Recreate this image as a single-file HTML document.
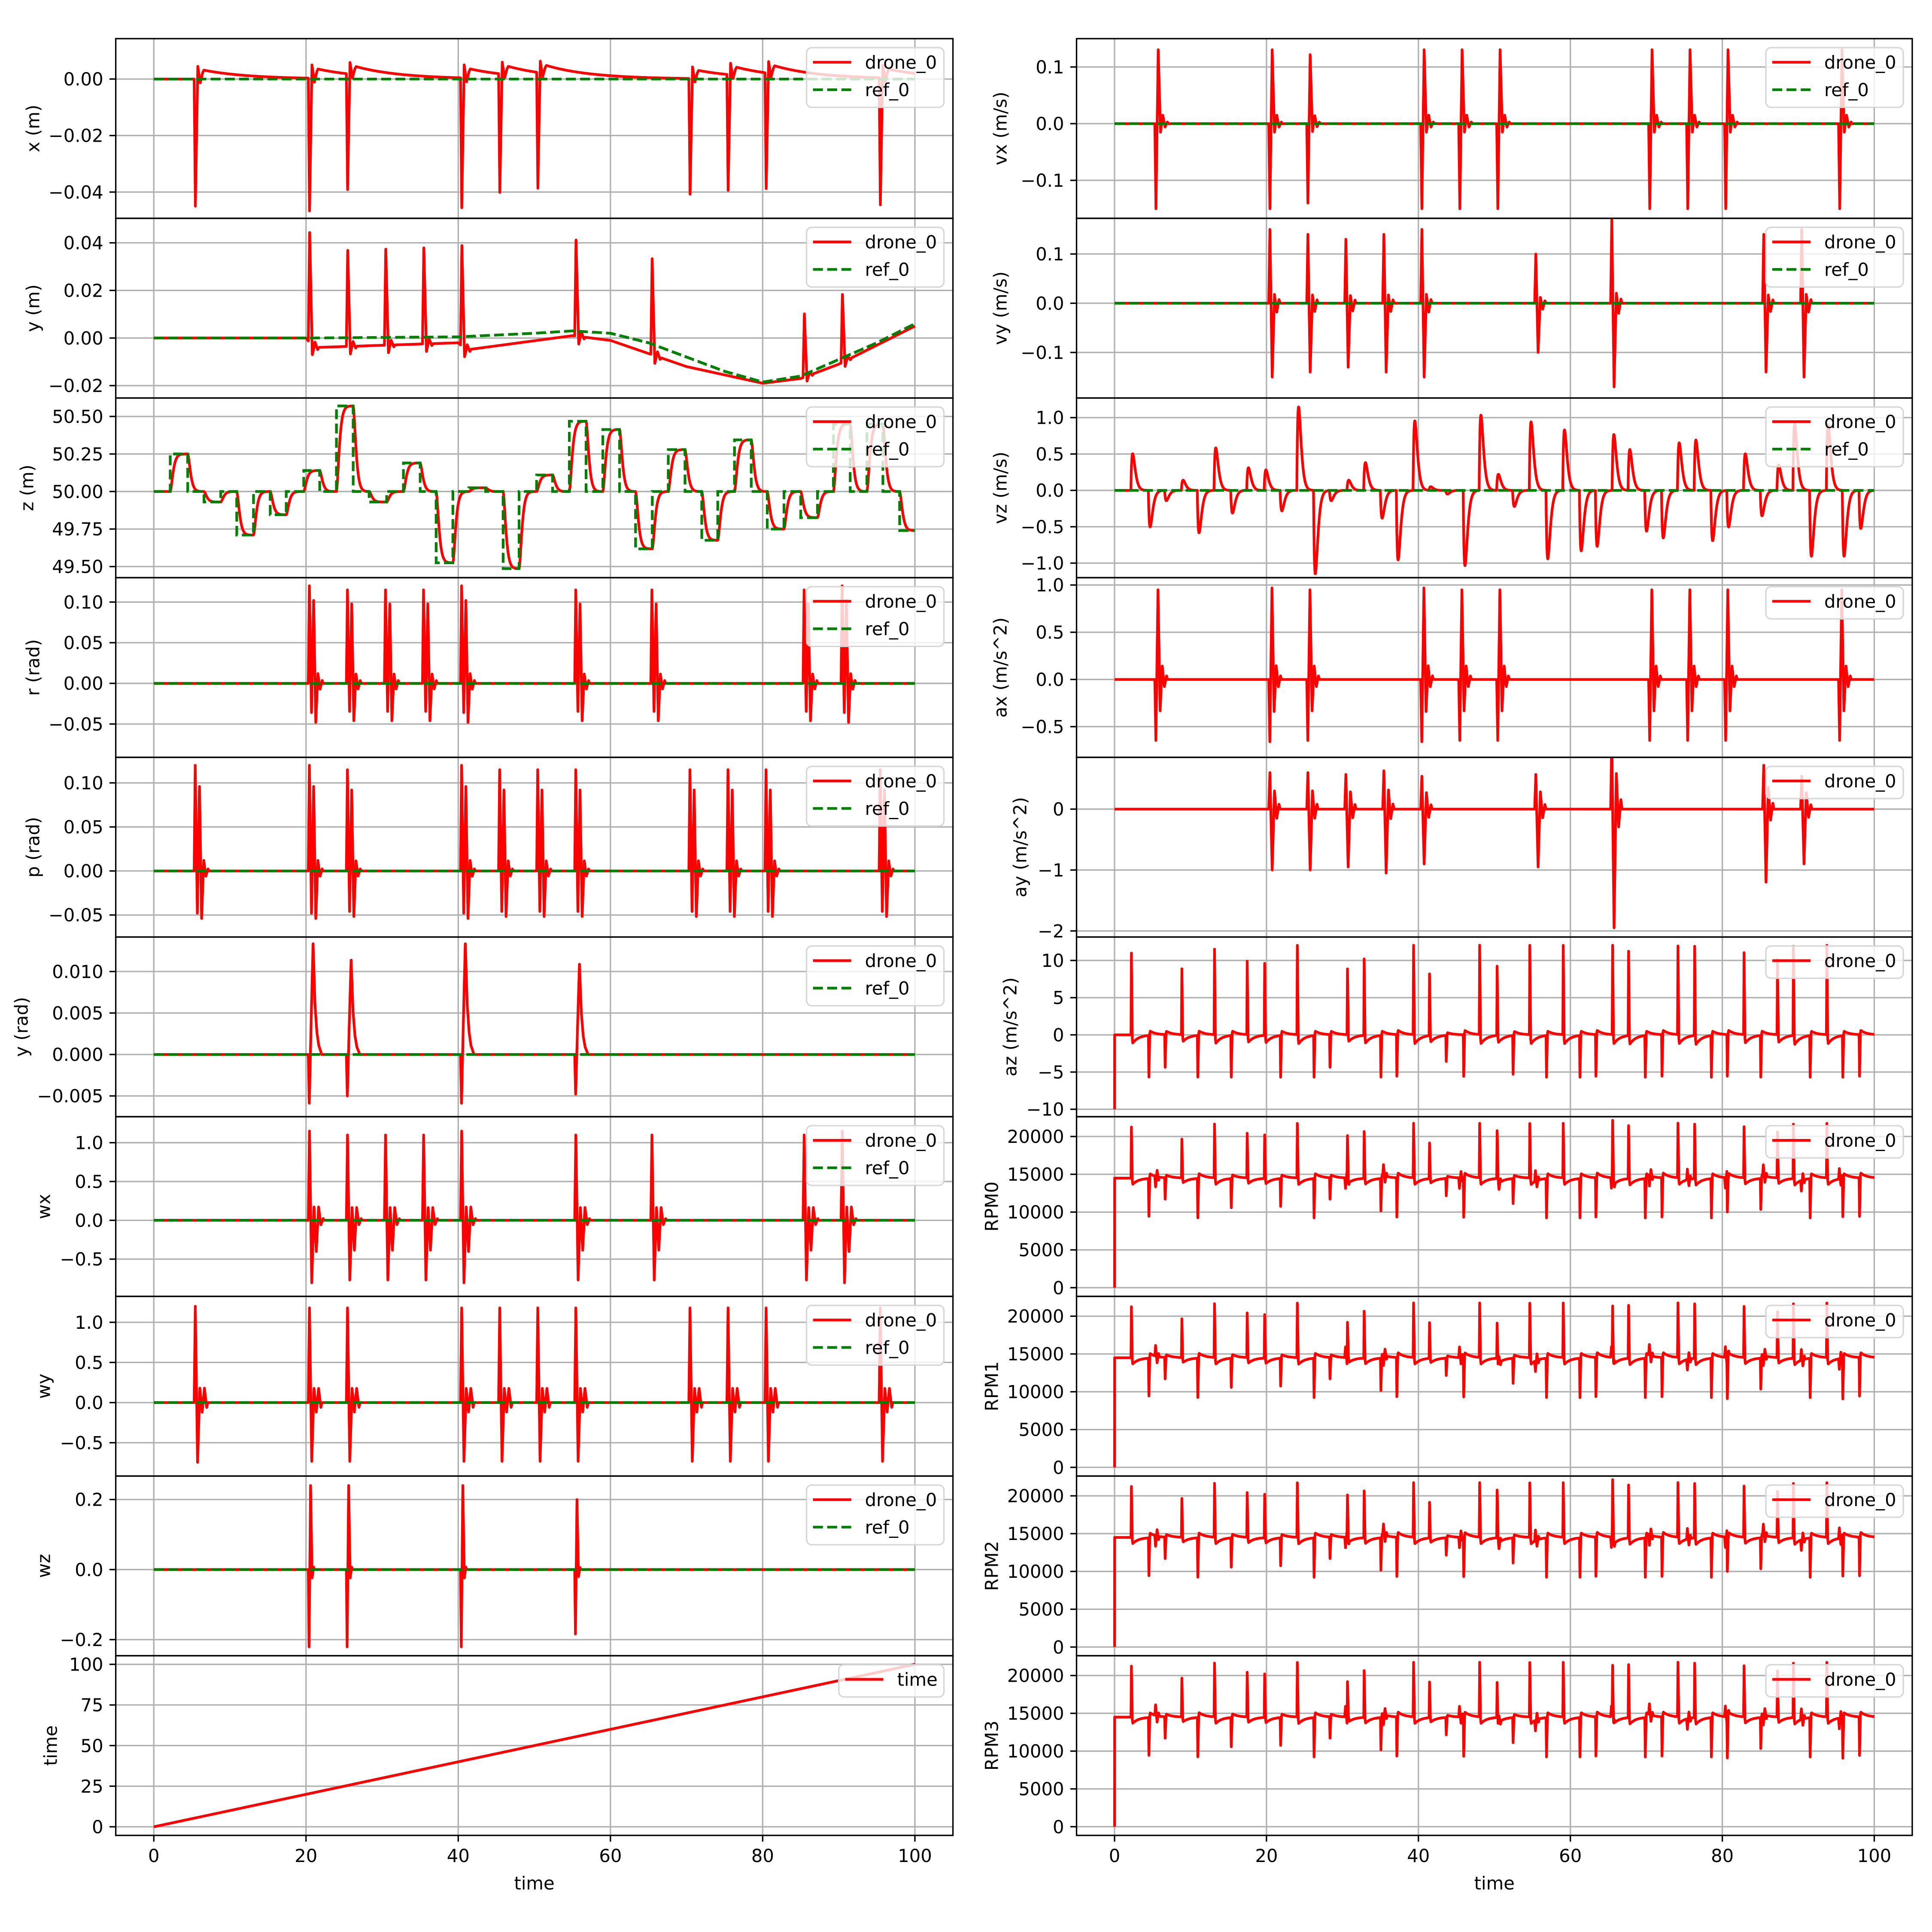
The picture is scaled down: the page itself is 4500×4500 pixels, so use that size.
<!DOCTYPE html>
<html><head><meta charset="utf-8">
<style>
html,body{margin:0;padding:0;background:#fff;}
svg{display:block;}
text{font-family:"DejaVu Sans","Liberation Sans",sans-serif;}
</style></head>
<body>
<svg id="fig" xmlns="http://www.w3.org/2000/svg" width="4500" height="4500" viewBox="0 0 4500 4500">
<rect x="0" y="0" width="4500" height="4500" fill="#fff"/>
</svg>
<script>
// ---------------- data ----------------
const xTicks = [0, 20, 40, 60, 80, 100];

// position x events
const xEvtT = [5.3, 20.3, 25.3, 40.3, 45.3, 50.3, 70.3, 75.3, 80.3, 95.3];
const xEvtA = [-0.045, -0.047, -0.041, -0.046, -0.042, -0.041, -0.041, -0.041, -0.041, -0.045];
// lateral (y/roll) events
const yEvtT = [20.3, 25.3, 30.3, 35.3, 40.3, 55.3, 65.3, 85.3, 90.3];
const yEvtA = [0.047, 0.041, 0.041, 0.041, 0.043, 0.041, 0.041, 0.027, 0.029];
const yRefT = [0, 20, 40, 50, 55, 60, 65, 70, 75, 80, 85, 90, 95, 100];
const yRefV = [0, 0, 0.0005, 0.002, 0.003, 0.002, -0.002, -0.008, -0.014, -0.0185, -0.016, -0.009, -0.002, 0.006];
const yBaseT = [0, 20, 21, 40, 41, 55, 60, 70, 80, 85, 90, 100];
const yBaseV = [0, 0, -0.004, -0.002, -0.005, 0.001, -0.001, -0.012, -0.019, -0.017, -0.011, 0.005];
// altitude reference steps
const zStepT = [0,2.16,4.46,6.6,8.8,10.9,13.1,15.3,17.4,19.7,21.8,24.0,26.2,28.3,30.6,32.8,35.0,37.1,39.3,41.4,43.6,45.9,48.0,50.3,52.4,54.6,56.8,59.0,61.2,63.3,65.5,67.6,69.8,72.0,74.1,76.3,78.5,80.6,82.8,85.0,87.2,89.3,91.5,93.7,95.8,98.0];
const zStepV = [50,50.25,50,49.93,50,49.71,50,49.845,50,50.14,50,50.57,50,49.93,50,50.19,50,49.525,50,50.025,50,49.486,50,50.11,50,50.468,50,50.413,50,49.618,50,50.279,50,49.675,50,50.344,50,49.75,50,49.826,50,50.45,50,50.45,50,49.74];
// roll
const rEvtA = [0.12, 0.115, 0.115, 0.115, 0.12, 0.115, 0.115, 0.115, 0.12];
// pitch events
const pEvtT = [5.3, 20.3, 25.3, 40.3, 45.3, 50.3, 55.3, 70.3, 75.3, 80.3, 95.3];
const pEvtA = [0.12, 0.12, 0.115, 0.12, 0.115, 0.115, 0.115, 0.115, 0.115, 0.115, 0.115];
// yaw events
const yawEvtT = [20.3, 25.3, 40.3, 55.3];
const yawEvtA = [0.0135, 0.0115, 0.0135, 0.011];
const wxEvtA = [1.15, 1.1, 1.1, 1.1, 1.15, 1.1, 1.1, 1.1, 1.15];
const wyEvtA = [1.2, 1.18, 1.18, 1.18, 1.18, 1.18, 1.18, 1.18, 1.18, 1.18, 1.18];
const wzEvtA = [0.24, 0.24, 0.24, 0.2];
const vxEvtA = [0.15, 0.15, 0.14, 0.15, 0.15, 0.15, 0.15, 0.15, 0.15, 0.15];
const vyEvtA = [0.15, 0.14, 0.13, 0.14, 0.15, 0.1, 0.17, 0.14, 0.15];
const axEvtA = [0.95, 0.97, 0.95, 0.97, 0.95, 0.95, 0.95, 0.95, 0.95, 0.95];
const ayEvtA = [1.0, 1.0, 0.95, 1.05, 0.9, 0.95, 1.95, 1.2, 0.9];
const rpmBase = [14500, 14500, 14500, 14500];

// ---------------- layout ----------------
const SVGNS = "http://www.w3.org/2000/svg";
const fig = document.getElementById('fig');
const TOP = 90, ROWH = 418.5;
const COLS = [{l: 269.6, w: 1950}, {l: 2507.5, w: 1946.5}];
const FS = 41.7, LW = 6.25, GW = 3.3;
const DT = 0.01, N = 10001;
const T = []; for (let i = 0; i < N; i++) T.push(i * DT);

function mk(tag, attrs, parent) {
  const e = document.createElementNS(SVGNS, tag);
  for (const k in attrs) e.setAttribute(k, attrs[k]);
  (parent || fig).appendChild(e);
  return e;
}
function interp(ts, vs, t) {
  if (t <= ts[0]) return vs[0];
  for (let i = 1; i < ts.length; i++) if (t <= ts[i]) {
    const f = (t - ts[i-1]) / (ts[i] - ts[i-1]); return vs[i-1] + f * (vs[i] - vs[i-1]);
  }
  return vs[vs.length - 1];
}
function eventSeries(times, amps, shape, d, tail, tau) {
  const out = new Float64Array(N);
  times.forEach((t0, k) => {
    const A = amps[k];
    const kt = [t0], kv = [0];
    shape.forEach((s, i) => { kt.push(t0 + d * (i + 0.5)); kv.push(A * s); });
    const tend = t0 + d * shape.length;
    kt.push(tend); kv.push(tail ? A * tail : 0);
    const i0 = Math.max(0, Math.floor(t0 / DT));
    for (let i = i0; i < N; i++) {
      const t = T[i];
      if (t <= tend) out[i] += interp(kt, kv, t);
      else if (tail) out[i] += A * tail * Math.exp(-(t - tend) / tau);
      else break;
    }
  });
  return out;
}
function stepRef(t) {
  let v = zStepV[0];
  for (let i = 0; i < zStepT.length; i++) if (t >= zStepT[i]) v = zStepV[i];
  return v;
}
const zRef = T.map(stepRef);
const zRed = []; { let r = 50, v = 0; const w = 4.2;
  for (let i = 0; i < N; i++) { const a = w*w*(zRef[i]-r) - 2*0.95*w*v; v += a*DT; r += v*DT; zRed.push(r); } }
const vzRed = zRed.map((z, i) => i === 0 ? 0 : 1.25 * (z - zRed[i-1]) / DT);
const zDelta = zStepV.map((v, i) => i === 0 ? 0 : v - zStepV[i-1]);
const azAmp = zDelta.map(d => d > 0 ? Math.min(12, 8 + 12 * d) : (d < 0 ? Math.max(-5.6, -3 + 20 * d) : 0));
const rpmAmp = zDelta.map(d => d > 0 ? Math.min(7200, 4500 + 9000 * d) : (d < 0 ? Math.max(-5200, -2000 + 12000 * d) : 0));

const zero = new Float64Array(N);
function add(a, b) { return Array.from(a, (v, i) => v + b[i]); }

const xRed = eventSeries(xEvtT, xEvtA, [1, -0.1, 0.03, -0.05], 0.32, -0.07, 6);
const yBase = T.map(t => interp(yBaseT, yBaseV, t));
const yRed = add(yBase, eventSeries(yEvtT, yEvtA, [1, -0.08, 0.05, -0.02], 0.35, 0, 1));
const yRef = T.map(t => interp(yRefT, yRefV, t));
const rRed = eventSeries(yEvtT, rEvtA, [1, -0.3, 0.85, -0.4, 0.1, -0.06, 0.03], 0.28, 0, 1);
const pRed = eventSeries(pEvtT, pEvtA, [1, -0.4, 0.8, -0.45, 0.1, -0.05, 0.02], 0.28, 0, 1);
const yawRed = eventSeries(yawEvtT, yawEvtA, [-0.45, 0.3, 1, 0.45, 0.2, 0.08, 0.03], 0.25, 0, 1);
const wxRed = eventSeries(yEvtT, wxEvtA, [1, -0.7, 0.15, -0.35, 0.15, -0.05, 0.02], 0.3, 0, 1);
const wyRed = eventSeries(pEvtT, wyEvtA, [1, -0.62, 0.15, -0.1, 0.15, -0.05], 0.3, 0, 1);
const wzRed = eventSeries(yawEvtT, wzEvtA, [-0.92, 1, -0.1, 0.03], 0.2, 0, 1);
const vxRed = eventSeries(xEvtT, vxEvtA, [-1, 0.87, -0.1, 0.1, -0.04, 0.02], 0.3, 0, 1);
const vyRed = eventSeries(yEvtT, vyEvtA, [1, -1, 0.12, -0.12, 0.05], 0.3, 0, 1);
const axRed = eventSeries(xEvtT, axEvtA, [-0.68, 1, -0.35, 0.15, -0.08, 0.04], 0.28, 0, 1);
const ayRed = eventSeries(yEvtT, ayEvtA, [0.6, -1, 0.3, -0.15, 0.08], 0.3, 0, 1);
const azRed = eventSeries(zStepT, azAmp, [1, -0.05], 0.12, -0.1, 0.8);
azRed[0] = -10;
function rpmSeries(m) {
  const s = eventSeries(zStepT, rpmAmp, [1, -0.05], 0.12, -0.12, 0.8);
  const small = eventSeries(xEvtT.concat(yEvtT), xEvtT.concat(yEvtT).map((t, i) => (i + m) % 2 ? 1400 : -1400), [1, -0.6, 0.3], 0.2, 0, 1);
  const out = Array.from(s, (v, i) => rpmBase[m] + v + small[i]);
  out[0] = 0;
  return out;
}

const panels = [
  {col:0,row:0,name:'x-position',label:'x (m)',ylim:[-0.0493,0.0143],ticks:[-0.04,-0.02,0],dec:2,red:xRed,ref:zero,lx:77},
  {col:0,row:1,name:'y-position',label:'y (m)',ylim:[-0.0252,0.0503],ticks:[-0.02,0,0.02,0.04],dec:2,red:yRed,ref:yRef,lx:77},
  {col:0,row:2,name:'z-position',label:'z (m)',ylim:[49.426,50.623],ticks:[49.5,49.75,50,50.25,50.5],dec:2,red:zRed,ref:zRef,lx:63},
  {col:0,row:3,name:'roll',label:'r (rad)',ylim:[-0.091,0.130],ticks:[-0.05,0,0.05,0.10],dec:2,red:rRed,ref:zero,lx:77},
  {col:0,row:4,name:'pitch',label:'p (rad)',ylim:[-0.075,0.129],ticks:[-0.05,0,0.05,0.10],dec:2,red:pRed,ref:zero,lx:77},
  {col:0,row:5,name:'yaw',label:'y (rad)',ylim:[-0.0075,0.01416],ticks:[-0.005,0,0.005,0.010],dec:3,red:yawRed,ref:zero,lx:50},
  {col:0,row:6,name:'wx',label:'wx',ylim:[-0.98,1.335],ticks:[-0.5,0,0.5,1.0],dec:1,red:wxRed,ref:zero,lx:102},
  {col:0,row:7,name:'wy',label:'wy',ylim:[-0.915,1.323],ticks:[-0.5,0,0.5,1.0],dec:1,red:wyRed,ref:zero,lx:102},
  {col:0,row:8,name:'wz',label:'wz',ylim:[-0.246,0.267],ticks:[-0.2,0,0.2],dec:1,red:wzRed,ref:zero,lx:102},
  {col:0,row:9,name:'time',label:'time',ylim:[-5.3,105.3],ticks:[0,25,50,75,100],dec:0,red:T,ref:null,lx:118,legend:['time']},
  {col:1,row:0,name:'vx',label:'vx (m/s)',ylim:[-0.167,0.15],ticks:[-0.1,0,0.1],dec:1,red:vxRed,ref:zero,lx:2330},
  {col:1,row:1,name:'vy',label:'vy (m/s)',ylim:[-0.1925,0.1725],ticks:[-0.1,0,0.1],dec:1,red:vyRed,ref:zero,lx:2330},
  {col:1,row:2,name:'vz',label:'vz (m/s)',ylim:[-1.2,1.27],ticks:[-1,-0.5,0,0.5,1],dec:1,red:vzRed,ref:zero,lx:2330},
  {col:1,row:3,name:'ax',label:'ax (m/s^2)',ylim:[-0.825,1.078],ticks:[-0.5,0,0.5,1.0],dec:1,red:axRed,ref:null,lx:2330},
  {col:1,row:4,name:'ay',label:'ay (m/s^2)',ylim:[-2.1,0.85],ticks:[-2,-1,0],dec:0,red:ayRed,ref:null,lx:2376},
  {col:1,row:5,name:'az',label:'az (m/s^2)',ylim:[-11.0,13.15],ticks:[-10,-5,0,5,10],dec:0,red:azRed,ref:null,lx:2353},
  {col:1,row:6,name:'rpm0',label:'RPM0',ylim:[-1150,22620],ticks:[0,5000,10000,15000,20000],dec:0,red:rpmSeries(0),ref:null,lx:2310},
  {col:1,row:7,name:'rpm1',label:'RPM1',ylim:[-1150,22620],ticks:[0,5000,10000,15000,20000],dec:0,red:rpmSeries(1),ref:null,lx:2310},
  {col:1,row:8,name:'rpm2',label:'RPM2',ylim:[-1150,22620],ticks:[0,5000,10000,15000,20000],dec:0,red:rpmSeries(2),ref:null,lx:2310},
  {col:1,row:9,name:'rpm3',label:'RPM3',ylim:[-1150,22620],ticks:[0,5000,10000,15000,20000],dec:0,red:rpmSeries(3),ref:null,lx:2310}
];

function fmt(v, dec) { const s = Math.abs(v).toFixed(dec); return (v < -1e-12 ? '\u2212' : '') + s; }

panels.forEach((p, pi) => {
  const C = COLS[p.col];
  const top = TOP + p.row * ROWH, h = ROWH, L = C.l, W = C.w;
  const xs = t => L + (t + 5) / 110 * W;
  const ys = v => top + h - (v - p.ylim[0]) / (p.ylim[1] - p.ylim[0]) * h;
  const g = mk('g', {});
  
  
  const cid = 'clip' + pi;
  const cp = mk('clipPath', {id: cid}, g);
  mk('rect', {x: L, y: top, width: W, height: h}, cp);
  xTicks.forEach(t => {
    const gl = mk('line', {x1: xs(t), x2: xs(t), y1: top, y2: top + h, stroke: '#b0b0b0', 'stroke-width': GW}, g);
    
    
  });
  p.ticks.forEach(v => {
    const gl = mk('line', {x1: L, x2: L + W, y1: ys(v), y2: ys(v), stroke: '#b0b0b0', 'stroke-width': GW}, g);
    
    
    const tk = mk('line', {x1: L - 14.6, x2: L, y1: ys(v), y2: ys(v), stroke: '#000', 'stroke-width': GW}, g);
    
    
    const tl = mk('text', {x: L - 29, y: ys(v) + 15, 'text-anchor': 'end', 'font-size': FS}, g);
    tl.textContent = fmt(v, p.dec);
    
    
  });
  const toPath = arr => { let d = ''; for (let i = 0; i < N; i++) d += (i ? 'L' : 'M') + xs(T[i]).toFixed(1) + ',' + ys(arr[i]).toFixed(1); return d; };
  const redP = mk('path', {d: toPath(p.red), fill: 'none', stroke: '#ff0000', 'stroke-width': LW, 'stroke-linejoin': 'round', 'clip-path': 'url(#' + cid + ')'}, g);
  
  
  if (p.ref) {
    const refP = mk('path', {d: toPath(p.ref), fill: 'none', stroke: '#008000', 'stroke-width': LW, 'stroke-dasharray': '23.1,10', 'clip-path': 'url(#' + cid + ')'}, g);
    
    
  }
  const sp = mk('rect', {x: L, y: top, width: W, height: h, fill: 'none', stroke: '#000', 'stroke-width': GW}, g);
  
  
  const yl = mk('text', {x: p.lx, y: top + h / 2, 'text-anchor': 'middle', 'font-size': FS, transform: 'rotate(-90 ' + p.lx + ' ' + (top + h / 2) + ')', 'dominant-baseline': 'central'}, g);
  yl.textContent = p.label;
  
  
  if (p.row === 9) {
    xTicks.forEach(t => {
      const tk = mk('line', {x1: xs(t), x2: xs(t), y1: top + h, y2: top + h + 14.6, stroke: '#000', 'stroke-width': GW}, g);
      
      
      const tl = mk('text', {x: xs(t), y: top + h + 62, 'text-anchor': 'middle', 'font-size': FS}, g);
      tl.textContent = String(t);
      
      
    });
    const xl = mk('text', {x: L + W / 2, y: top + h + 126, 'text-anchor': 'middle', 'font-size': FS}, g);
    xl.textContent = 'time';
    
    
  }
  const entries = p.legend ? p.legend : (p.ref ? ['drone_0', 'ref_0'] : ['drone_0']);
  const lgW = p.legend ? 245 : 320;
  const lgH = entries.length === 2 ? 139 : 75;
  const lgR = L + W - 21, lgL = lgR - lgW, lgT = top + 21;
  const lg = mk('g', {}, g);
  
  
  mk('rect', {x: lgL, y: lgT, width: lgW, height: lgH, rx: 12, fill: 'rgba(255,255,255,0.8)', stroke: '#d6d6d6', 'stroke-width': GW}, lg);
  entries.forEach((e, i) => {
    const cy = lgT + 34 + i * 64;
    const ln = mk('line', {x1: lgL + 15, x2: lgL + 104, y1: cy, y2: cy, stroke: i === 0 ? '#ff0000' : '#008000', 'stroke-width': LW, 'stroke-dasharray': i === 0 ? 'none' : '23.1,10'}, lg);
    
    
    const tx = mk('text', {x: lgL + 136, y: cy + 15, 'font-size': FS}, lg);
    tx.textContent = e;
    
    
  });
});
</script>
</body></html>
